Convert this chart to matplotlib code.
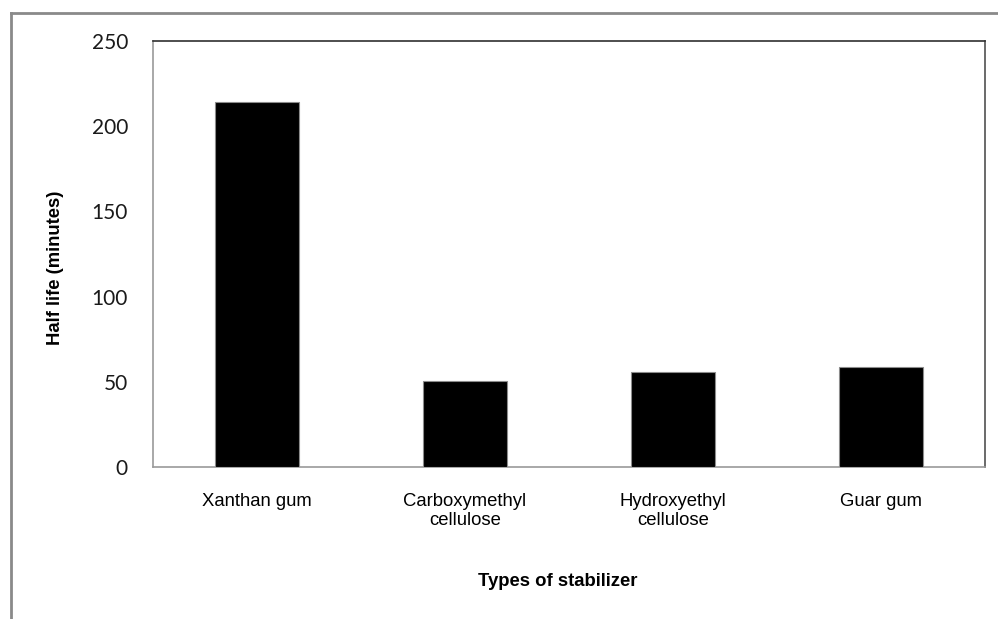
import matplotlib
matplotlib.use("Agg")
import matplotlib.pyplot as plt
from matplotlib.lines import Line2D

# data
categories = ["Xanthan gum", "Carboxymethyl\ncellulose", "Hydroxyethyl\ncellulose", "Guar gum"]
half_life = [214, 50.5, 55.5, 58.5]
y_ticks = [0, 50, 100, 150, 200, 250]

W, H = 998, 619
fig = plt.figure(figsize=(W / 100, H / 100), dpi=100)
fig.patch.set_facecolor("white")

# plot area in pixels: left 153, right 985, top 41, bottom 467
ax = fig.add_axes([153 / W, 1 - 467 / H, (985 - 153) / W, (467 - 41) / H])

x = list(range(len(categories)))
ax.bar(x, half_life, width=0.4, color="black", edgecolor="#8c8c8c", linewidth=0.8, zorder=3)

ax.set_xlim(-0.5, len(categories) - 0.5)
ax.set_ylim(0, 250)
ax.set_yticks(y_ticks)
ax.set_yticklabels([str(t) for t in y_ticks], family="Lato", fontsize=15, color="#1a1a1a")
ax.set_xticks(x)
ax.set_xticklabels(categories, family="Liberation Sans", fontsize=13.3, linespacing=1.1)
ax.tick_params(axis="y", length=0, pad=18)
ax.tick_params(axis="x", length=0, pad=19)

ax.spines["left"].set_color("#9a9a9a")
ax.spines["bottom"].set_color("#9a9a9a")
ax.spines["top"].set_color("#303030")
ax.spines["right"].set_color("#505050")
for s in ax.spines.values():
    s.set_linewidth(1.2)

ax.set_ylabel("Half life (minutes)", family="Liberation Sans", fontsize=13.3, fontweight="bold")
ax.yaxis.label.set_va("center")
ax.yaxis.set_label_coords((56 - 153) / 832, (467 - 267.5) / 426)

fig.text(558 / W, 1 - 582 / H, "Types of stabilizer", family="Liberation Sans",
         fontsize=13.3, fontweight="bold", ha="center", va="center")

# outer chart frame (cut off at right and bottom)
fig.add_artist(Line2D([11 / W, 11 / W], [0, 1 - 13 / H], transform=fig.transFigure,
                      color="#8a8a8a", linewidth=2))
fig.add_artist(Line2D([11 / W, 1], [1 - 13 / H, 1 - 13 / H], transform=fig.transFigure,
                      color="#8a8a8a", linewidth=2))

fig.savefig("out.png", dpi=100)
